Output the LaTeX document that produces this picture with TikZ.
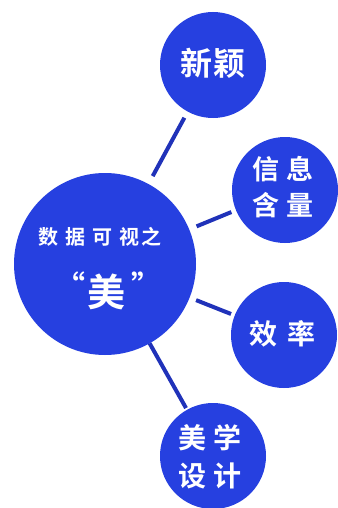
\documentclass[tikz,border=0pt]{standalone}
\usepackage{fontspec}
\newfontfamily\cjk{Noto Sans CJK SC}
\newfontfamily\cjkb{Noto Sans CJK SC Bold}
\definecolor{bubble}{RGB}{38,64,224}
\definecolor{linkc}{RGB}{32,50,185}
\begin{document}
\begin{tikzpicture}[x=1pt,y=-1pt,
  bub/.style={circle,fill=bubble,draw=none,inner sep=0pt,minimum size=#1,text=white,align=center},
  link/.style={draw=linkc,line width=4pt},
  lbl/.style={text=white,inner sep=0pt,font=\cjkb}]
\useasboundingbox[fill=white] (0,0) rectangle (337,508);
\node[bub=182pt] (c) at (105,264) {};
\node[bub=106pt] (n1) at (213,65) {};
\node[bub=106pt] (n2) at (285,190) {};
\node[bub=106pt] (n3) at (284,335) {};
\node[bub=106pt] (n4) at (213,456) {};
% labels
\node[lbl,font=\cjkb\fontsize{32}{32}\selectfont] (t1) at (213,63) {新\hspace{2pt}颖};
\node[lbl,font=\cjkb\fontsize{27}{27}\selectfont,align=center] (t2) at (283,187) {信\hspace{7pt}息\\[9pt]含\hspace{7pt}量};
\node[lbl,font=\cjkb\fontsize{28}{28}\selectfont] (t3) at (282,334) {效\hspace{10pt}率};
\node[lbl,font=\cjkb\fontsize{28}{28}\selectfont,align=center] (t4) at (210,457) {美\hspace{8pt}学\\[10pt]设\hspace{8pt}计};
\node[lbl,font=\cjkb\fontsize{20}{20}\selectfont] (t0) at (100,237) {数\hspace{7pt}据\hspace{7pt}可\hspace{7pt}视\hspace{2pt}之};
\node[lbl,font=\cjkb\fontsize{38}{38}\selectfont] (mei) at (106,292) {美};
\node[lbl,font=\cjkb\fontsize{30}{30}\selectfont] (q1) at (70,285) {“};
\node[lbl,font=\cjkb\fontsize{30}{30}\selectfont] (q2) at (146,285) {”};
% connectors
\draw[link,shorten <=100pt,shorten >=60pt] (c.center) -- (n1.center);
\draw[link,shorten <=99pt,shorten >=58pt] (c.center) -- (n2.center);
\draw[link,shorten <=98pt,shorten >=57pt] (c.center) -- (n3.center);
\draw[link,shorten <=91pt,shorten >=55pt] (c.center) -- (n4.center);
\end{tikzpicture}
\end{document}
